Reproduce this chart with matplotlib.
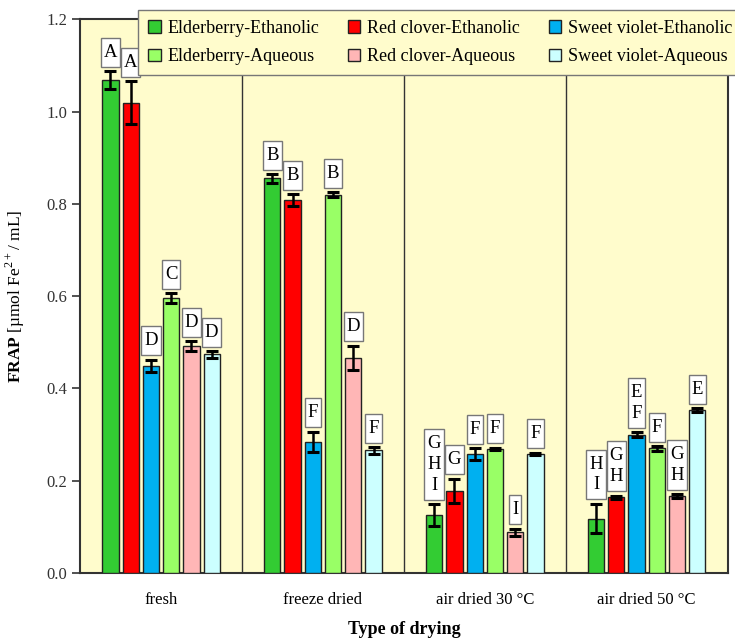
import numpy as np
import matplotlib.pyplot as plt
from matplotlib.patches import Patch, Rectangle

plt.rcParams['font.family'] = ['Liberation Serif', 'DejaVu Serif']
plt.rcParams['mathtext.fontset'] = 'custom'
plt.rcParams['mathtext.rm'] = 'Liberation Serif'
plt.rcParams['mathtext.bf'] = 'Liberation Serif:bold'

# drying methods and extracts
drying = ["fresh", "freeze dried", "air dried 30 °C", "air dried 50 °C"]
series = ["Elderberry-Ethanolic", "Red clover-Ethanolic", "Sweet violet-Ethanolic",
          "Elderberry-Aqueous", "Red clover-Aqueous", "Sweet violet-Aqueous"]
colors = ["#33cc33", "#ff0000", "#00b0f0", "#99ff66", "#ffb6b6", "#ccffff"]

# FRAP means (rows = series, cols = drying)
frap = [[1.068, 0.855, 0.126, 0.118],
        [1.019, 0.808, 0.178, 0.164],
        [0.449, 0.284, 0.258, 0.300],
        [0.596, 0.820, 0.269, 0.270],
        [0.492, 0.466, 0.088, 0.167],
        [0.474, 0.266, 0.258, 0.353]]
err = [[0.020, 0.009, 0.023, 0.032],
       [0.047, 0.013, 0.026, 0.004],
       [0.013, 0.022, 0.012, 0.005],
       [0.010, 0.005, 0.003, 0.005],
       [0.010, 0.027, 0.008, 0.004],
       [0.007, 0.007, 0.003, 0.004]]
letters = [["A", "B", "G\nH\nI", "H\nI"],
           ["A", "B", "G", "G\nH"],
           ["D", "F", "F", "E\nF"],
           ["C", "B", "F", "F"],
           ["D", "D", "I", "G\nH"],
           ["D", "F", "F", "E"]]

W, H = 7.35, 6.41
fig = plt.figure(figsize=(W, H), dpi=100)
ax = fig.add_axes([0.109, 0.106, 0.881, 0.864])
ax.set_facecolor("#fffccc")

x = np.arange(len(drying))
slot = 0.125
width = 0.1
texts = []
for i in range(len(series)):
    xs = x + (i - 2.5) * slot
    ax.bar(xs, frap[i], width, color=colors[i], edgecolor="#222222", linewidth=1,
           yerr=err[i], error_kw=dict(ecolor="black", elinewidth=1.8, capsize=4, capthick=2.2),
           zorder=3)
    for j in range(len(drying)):
        t = ax.annotate(letters[i][j], (xs[j], frap[i][j] + err[i][j]), xytext=(0, 7.5),
                        textcoords="offset points", ha="center", va="bottom", fontsize=13.5,
                        linespacing=1.3, zorder=6)
        texts.append(t)

# separators between drying groups
for b in [0.5, 1.5, 2.5]:
    ax.axvline(b, color="#333333", lw=1, zorder=1)

ax.set_xlim(-0.5, 3.5)
ax.set_ylim(0, 1.2)
ax.set_yticks(np.arange(0, 1.21, 0.2))
ax.set_yticklabels(["%.1f" % v for v in np.arange(0, 1.21, 0.2)])
ax.set_xticks(x)
ax.set_xticklabels(drying)
ax.tick_params(axis="x", length=0, pad=14, labelsize=12)
ax.tick_params(axis="y", direction="out", length=6, width=1.2, labelsize=12, colors="#333333")
for s in ax.spines.values():
    s.set_color("#333333")
    s.set_linewidth(1.5)

ax.set_ylabel(r"$\mathbf{FRAP}$ [µmol Fe$^{2+}$/ mL]", fontsize=12.5, labelpad=14)
ax.set_xlabel("Type of drying", fontsize=13, fontweight="bold", labelpad=9)

# white boxes round the letters, taller than wide
fig.canvas.draw()
r = fig.canvas.get_renderer()
for t in texts:
    bb = t.get_window_extent(r)
    x0, y0 = bb.x0 - 3, bb.y0 - 6
    w, h = bb.width + 6, bb.height + 12
    ax.add_patch(Rectangle((x0 / fig.dpi / W, y0 / fig.dpi / H),
                           w / fig.dpi / W, h / fig.dpi / H,
                           transform=fig.transFigure, fc="white", ec="#777777", lw=1,
                           zorder=5, clip_on=False))

handles = [Patch(fc=c, ec="#222222", lw=1) for c in colors]
order = [0, 3, 1, 4, 2, 5]
leg = fig.legend([handles[k] for k in order], [series[k] for k in order], ncol=3,
                 loc="upper left", bbox_to_anchor=(0.188, 0.985), borderaxespad=0,
                 fontsize=13, frameon=True, fancybox=False, handlelength=0.7,
                 handleheight=0.7, handletextpad=0.35, columnspacing=1.6, borderpad=0.55,
                 labelspacing=0.65)
leg.get_frame().set_facecolor("#fffccc")
leg.get_frame().set_edgecolor("#777777")
leg.get_frame().set_alpha(1)
leg.set_zorder(10)

fig.savefig("out.png", dpi=100)
